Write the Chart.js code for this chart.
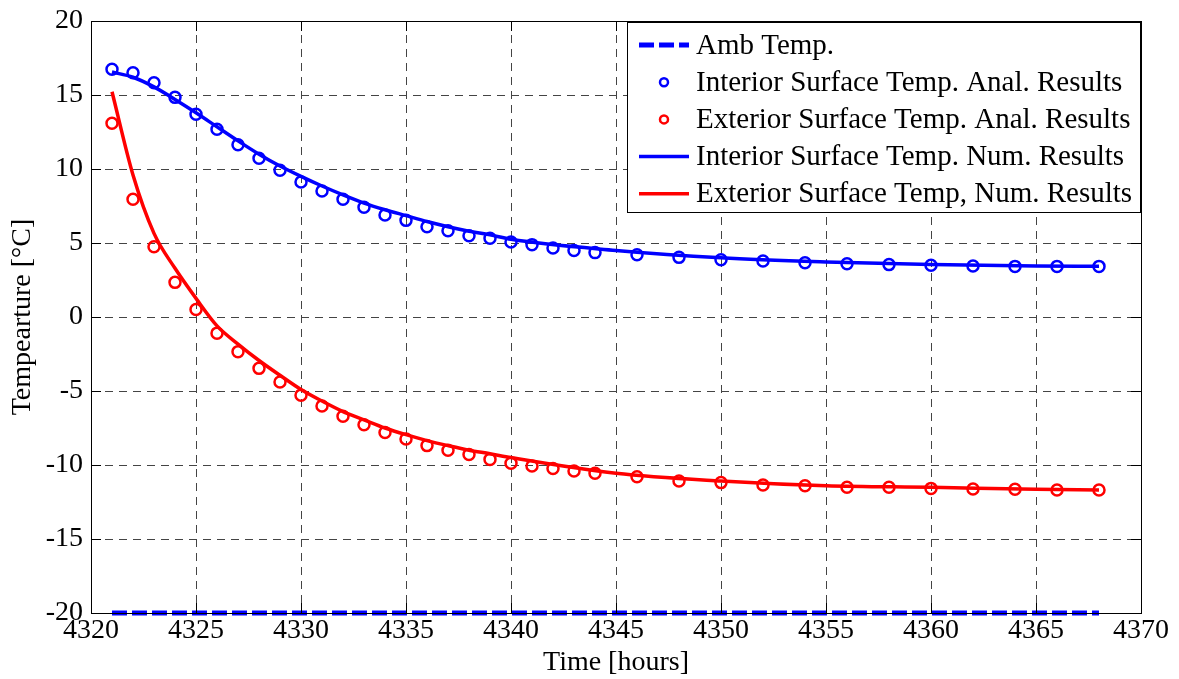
<!DOCTYPE html>
<html>
<head>
<meta charset="utf-8">
<script src="https://cdn.jsdelivr.net/npm/chart.js@4/dist/chart.umd.min.js"></script>
<style>
  html, body { margin: 0; padding: 0; background: white; }
  #wrap { width: 1179px; height: 679px; }
</style>
</head>
<body>
<div id="wrap"><canvas id="tempChart"></canvas></div>
<script>
// hours where analytical results were sampled
const anaHours = [4321, 4322, 4323, 4324, 4325, 4326, 4327, 4328, 4329, 4330,
    4331, 4332, 4333, 4334, 4335, 4336, 4337, 4338, 4339, 4340,
    4341, 4342, 4343, 4344, 4346, 4348, 4350, 4352, 4354, 4356, 4358, 4360, 4362, 4364, 4366, 4368];
const interiorAnal = [16.74, 16.5, 15.83, 14.84, 13.7, 12.68, 11.64, 10.72, 9.91, 9.12,
    8.51, 7.95, 7.41, 6.89, 6.53, 6.1, 5.83, 5.49, 5.32, 5.07,
    4.89, 4.66, 4.5, 4.35, 4.21, 4.03, 3.87, 3.78, 3.67, 3.6, 3.54, 3.49, 3.45, 3.42, 3.42, 3.42];
const exteriorAnal = [13.09, 7.95, 4.75, 2.34, 0.5, -1.09, -2.34, -3.47, -4.39, -5.28,
    -6.01, -6.7, -7.28, -7.8, -8.24, -8.69, -9.0, -9.29, -9.62, -9.88,
    -10.07, -10.23, -10.41, -10.56, -10.79, -11.08, -11.19, -11.35, -11.4, -11.51, -11.51, -11.58, -11.62, -11.64, -11.69, -11.69];

// numerical results
const numHours = [4321, 4322, 4323, 4324, 4325, 4326, 4327, 4328, 4329, 4330,
    4331, 4332, 4333, 4334, 4335, 4336, 4337, 4338, 4339, 4340,
    4345, 4350, 4355, 4360, 4365, 4368];
const interiorNum = [16.55, 16.2, 15.55, 14.7, 13.8, 12.85, 11.9, 11.0, 10.2, 9.5,
    8.85, 8.25, 7.7, 7.25, 6.85, 6.45, 6.1, 5.8, 5.55, 5.25,
    4.5, 4.0, 3.72, 3.54, 3.45, 3.43];
const exteriorNum = [15.22, 9.59, 5.65, 3.29, 1.26, -0.6, -1.83, -2.94, -3.94, -4.9,
    -5.68, -6.39, -6.95, -7.5, -7.95, -8.35, -8.69, -9.0, -9.24, -9.5,
    -10.56, -11.08, -11.4, -11.51, -11.64, -11.69];

// ambient temperature
const ambHours = [4321, 4368];
const ambTemp = [-20, -20];

const xTicks = { min: 4320, max: 4370, step: 5 };
const yTicks = { min: -20, max: 20, step: 5 };

const FONT = 'Liberation Serif, Times New Roman, serif';

function pts(xs, ys) {
    return xs.map((x, i) => ({ x: x, y: ys[i] }));
}

/// draws the framed box, inner ticks and the legend inside the plot area
const boxLegend = {
    id: 'boxLegend',
    afterDatasetsDraw(chart) {
        const ctx = chart.ctx;
        const a = chart.chartArea;
        ctx.save();
        ctx.strokeStyle = '#000';
        ctx.lineWidth = 1;
        ctx.setLineDash([]);
        ctx.strokeRect(a.left + 0.5, a.top + 0.5, a.right - a.left, a.bottom - a.top);

        const xs = chart.scales.x, ys = chart.scales.y;
        ctx.beginPath();
        for (let v = xTicks.min; v <= xTicks.max; v += xTicks.step) {
            const px = Math.round(xs.getPixelForValue(v)) + 0.5;
            ctx.moveTo(px, a.bottom); ctx.lineTo(px, a.bottom - 10);
            ctx.moveTo(px, a.top); ctx.lineTo(px, a.top + 10);
        }
        for (let v = yTicks.min; v <= yTicks.max; v += yTicks.step) {
            const py = Math.round(ys.getPixelForValue(v)) + 0.5;
            ctx.moveTo(a.left, py); ctx.lineTo(a.left + 10, py);
            ctx.moveTo(a.right, py); ctx.lineTo(a.right - 10, py);
        }
        ctx.stroke();

        // legend
        const lx = a.left + 536, ly = a.top + 1, lw = 513, lh = 190;
        ctx.fillStyle = '#fff';
        ctx.fillRect(lx, ly, lw, lh);
        ctx.strokeRect(lx + 0.5, ly + 0.5, lw, lh);
        ctx.font = '29px ' + FONT;
        ctx.textBaseline = 'middle';
        ctx.textAlign = 'left';
        chart.data.datasets.forEach((ds, i) => {
            const cy = ly + 23 + i * 37.2;
            const sx = lx + 12, ex = lx + 62;
            ctx.setLineDash(ds.borderDash || []);
            if (ds.showLine === false) {
                ctx.beginPath();
                ctx.strokeStyle = ds.pointBorderColor;
                ctx.lineWidth = 2.5;
                ctx.arc((sx + ex) / 2, cy, 4, 0, Math.PI * 2);
                ctx.stroke();
            } else {
                ctx.beginPath();
                ctx.strokeStyle = ds.borderColor;
                ctx.lineWidth = ds.borderWidth;
                ctx.moveTo(sx, cy); ctx.lineTo(ex, cy);
                ctx.stroke();
            }
            ctx.setLineDash([]);
            ctx.fillStyle = '#000';
            ctx.fillText(ds.label, lx + 69, cy + 1);
        });
        ctx.restore();
    }
};

const tempChart = new Chart('tempChart', {
    type: 'line',
    data: {
        datasets: [
            {
                label: 'Amb Temp.',
                data: pts(ambHours, ambTemp),
                borderColor: 'rgb(0, 0, 255)',
                borderWidth: 5,
                borderDash: [15, 5],
                pointRadius: 0,
                clip: 10
            },
            {
                label: 'Interior Surface Temp. Anal. Results',
                data: pts(anaHours, interiorAnal),
                showLine: false,
                pointStyle: 'circle',
                pointRadius: 5.5,
                pointBorderWidth: 2.5,
                pointBorderColor: 'rgb(0, 0, 255)',
                pointBackgroundColor: 'rgba(0,0,0,0)'
            },
            {
                label: 'Exterior Surface Temp. Anal. Results',
                data: pts(anaHours, exteriorAnal),
                showLine: false,
                pointStyle: 'circle',
                pointRadius: 5.5,
                pointBorderWidth: 2.5,
                pointBorderColor: 'rgb(255, 0, 0)',
                pointBackgroundColor: 'rgba(0,0,0,0)'
            },
            {
                label: 'Interior Surface Temp. Num. Results',
                data: pts(numHours, interiorNum),
                borderColor: 'rgb(0, 0, 255)',
                borderWidth: 3.5,
                cubicInterpolationMode: 'monotone',
                pointRadius: 0
            },
            {
                label: 'Exterior Surface Temp, Num. Results',
                data: pts(numHours, exteriorNum),
                borderColor: 'rgb(255, 0, 0)',
                borderWidth: 3.5,
                cubicInterpolationMode: 'monotone',
                pointRadius: 0
            }
        ]
    },
    options: {
        responsive: true,
        maintainAspectRatio: false,
        animation: false,
        layout: { padding: { top: 21, right: 38, left: 0, bottom: 0 } },
        plugins: {
            legend: { display: false },
            tooltip: { enabled: false }
        },
        scales: {
            x: {
                type: 'linear',
                min: xTicks.min,
                max: xTicks.max,
                afterFit(scale) {
                    scale.height = 66;
                    scale.paddingLeft = 0;
                    scale.paddingRight = 0;
                },
                ticks: {
                    stepSize: xTicks.step,
                    color: '#000',
                    padding: 1,
                    maxRotation: 0,
                    callback: (v) => String(v),
                    font: { family: FONT, size: 28 }
                },
                grid: {
                    color: '#444',
                    lineWidth: 1,
                    drawTicks: false
                },
                border: { display: false, dash: [8, 6] },
                title: {
                    display: true,
                    text: 'Time [hours]',
                    color: '#000',
                    padding: { top: -6, bottom: 0 },
                    font: { family: FONT, size: 28 }
                }
            },
            y: {
                min: yTicks.min,
                max: yTicks.max,
                afterFit(scale) {
                    scale.width = 91;
                    scale.paddingTop = 0;
                    scale.paddingBottom = 0;
                },
                ticks: {
                    stepSize: yTicks.step,
                    color: '#000',
                    padding: 8,
                    font: { family: FONT, size: 28 }
                },
                grid: {
                    color: '#444',
                    lineWidth: 1,
                    drawTicks: false
                },
                border: { display: false, dash: [8, 6] },
                title: {
                    display: true,
                    text: 'Tempearture [°C]',
                    color: '#000',
                    padding: { top: 6, bottom: 0 },
                    font: { family: FONT, size: 28 }
                }
            }
        }
    },
    plugins: [boxLegend]
});
</script>
</body>
</html>
